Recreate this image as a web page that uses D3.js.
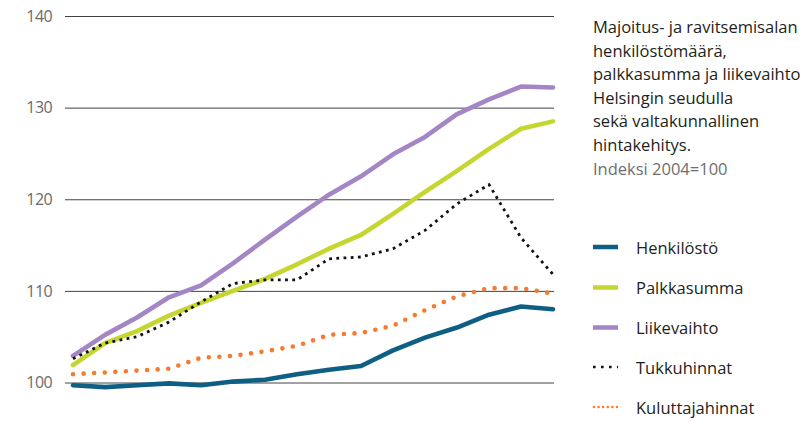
<!DOCTYPE html>
<html>
<head>
<meta charset="utf-8">
<script src="https://cdn.jsdelivr.net/npm/d3@7"></script>
<style>
  html, body { margin: 0; padding: 0; background: #fff; }
  svg { display: block; font-family: "Open Sans", sans-serif; }
</style>
</head>
<body>
<svg id="chart" width="811" height="424"></svg>
<script>
// ---- Data ----
const periods = ["2004 I","2004 II","2005 I","2005 II","2006 I","2006 II","2007 I","2007 II",
                 "2008 I","2008 II","2009 I","2009 II","2010 I","2010 II","2011 I","2011 II"];
const henkilosto      = [99.7, 99.5, 99.7, 99.9, 99.7, 100.1, 100.3, 100.9, 101.4, 101.8, 103.5, 104.9, 106.0, 107.4, 108.3, 108.0];
const palkkasumma     = [101.9, 104.3, 105.6, 107.3, 108.7, 110.0, 111.3, 112.9, 114.6, 116.1, 118.4, 120.8, 123.1, 125.5, 127.7, 128.5];
const liikevaihto     = [102.9, 105.2, 107.1, 109.3, 110.6, 113.0, 115.6, 118.1, 120.5, 122.5, 124.9, 126.8, 129.3, 130.9, 132.3, 132.2];
const tukkuhinnat     = [102.6, 104.3, 105.0, 106.6, 108.8, 110.8, 111.2, 111.2, 113.5, 113.7, 114.6, 116.6, 119.5, 121.6, 115.8, 111.8];
const kuluttajahinnat = [100.9, 101.1, 101.3, 101.5, 102.7, 102.9, 103.4, 104.0, 105.2, 105.4, 106.2, 107.9, 109.4, 110.3, 110.3, 109.7];
const seriesNames = ["Henkilöstö", "Palkkasumma", "Liikevaihto", "Tukkuhinnat", "Kuluttajahinnat"];
const yTicks = [100, 110, 120, 130, 140];
const titleLines = ["Majoitus- ja ravitsemisalan", "henkilöstömäärä,", "palkkasumma ja liikevaihto",
                    "Helsingin seudulla", "sekä valtakunnallinen", "hintakehitys."];
const subtitle = "Indeksi 2004=100";

// ---- Styles ----
const styles = [
  { color: "#0f5f84", width: 4.6, dash: null, cap: "round", lw: 4.5, ldash: null, lcap: "butt" },
  { color: "#c4d62f", width: 4.6, dash: null, cap: "round", lw: 4.5, ldash: null, lcap: "butt" },
  { color: "#a386c3", width: 4.6, dash: null, cap: "round", lw: 4.5, ldash: null, lcap: "butt" },
  { color: "#111111", width: 2.8, dash: "2.8 4.4", cap: "butt", lw: 2.6, ldash: "2.6 5.4", lcap: "butt" },
  { color: "#f47c30", width: 4.6, dash: "0 10.6", cap: "round", lw: 2.6, ldash: "0 4.6", lcap: "round" }
];
const seriesData = [henkilosto, palkkasumma, liikevaihto, tukkuhinnat, kuluttajahinnat];

const svg = d3.select("#chart");

const x = d3.scalePoint().domain(periods).range([73, 553]);
const y = d3.scaleLinear().domain([100, 140]).range([382.5, 16]);

// Grid + y labels via axis
const yAxis = d3.axisLeft(y).tickValues(yTicks).tickSize(-(554 - 65)).tickPadding(13).tickFormat(d3.format("d"));
const gAxis = svg.append("g").attr("transform", "translate(65,0)").call(yAxis);
gAxis.select(".domain").remove();
gAxis.selectAll(".tick line").attr("stroke", "#444").attr("stroke-width", 1);
gAxis.selectAll(".tick text")
  .attr("fill", "#6b6b6b")
  .attr("font-size", 16)
  .attr("letter-spacing", "-0.6")
  .attr("font-family", "'Open Sans', sans-serif");

// Lines
const line = d3.line().x((d, i) => x(periods[i])).y(d => y(d));
// draw order: solid first then dotted on top
const order = [1, 2, 0, 4, 3];
order.forEach(k => {
  const s = styles[k];
  svg.append("path")
    .datum(seriesData[k])
    .attr("d", line)
    .attr("fill", "none")
    .attr("stroke", s.color)
    .attr("stroke-width", s.width)
    .attr("stroke-linecap", s.cap)
    .attr("stroke-linejoin", "round")
    .attr("stroke-dasharray", s.dash);
});

// Title
const title = svg.append("text").attr("x", 593).attr("font-size", 16.5).attr("fill", "#231f20");
titleLines.forEach((t, i) => {
  title.append("tspan").attr("x", 593).attr("y", 33 + i * 23.5).text(t);
});
svg.append("text").attr("x", 593).attr("y", 33 + 6 * 23.5 + 1)
  .attr("font-size", 16.5).attr("fill", "#6d6e71").text(subtitle);

// Legend
const legendY = [247, 287.5, 327.5, 367, 407];
seriesNames.forEach((name, k) => {
  const s = styles[k];
  const g = svg.append("g").attr("transform", `translate(0,${legendY[k]})`);
  g.append("line")
    .attr("x1", k === 4 ? 594 : 593).attr("x2", 618).attr("y1", 0).attr("y2", 0)
    .attr("stroke", s.color).attr("stroke-width", s.lw)
    .attr("stroke-linecap", s.lcap)
    .attr("stroke-dasharray", s.ldash);
  g.append("text").attr("x", 636).attr("y", 6.5)
    .attr("font-size", 16.5).attr("fill", "#231f20").text(name);
});
</script>
</body>
</html>
